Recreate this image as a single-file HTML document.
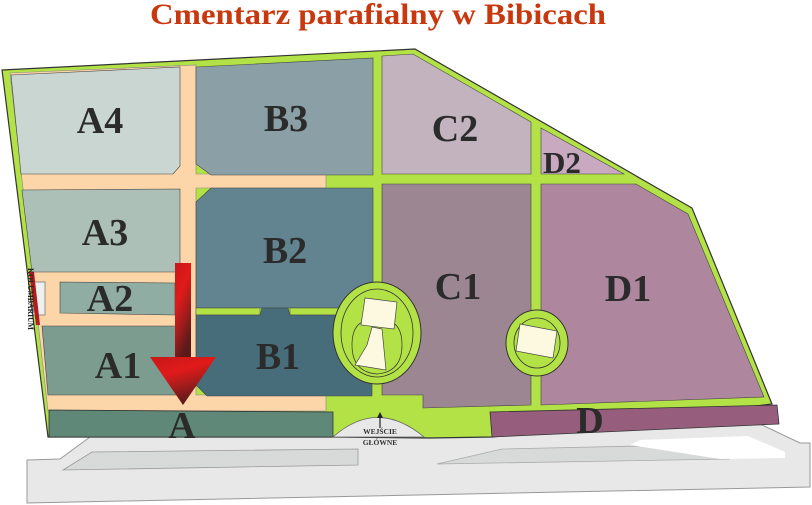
<!DOCTYPE html>
<html><head><meta charset="utf-8"><style>html,body{margin:0;padding:0;background:#fff}svg{display:block}</style></head><body>
<svg width="812" height="505" viewBox="0 0 812 505" xmlns="http://www.w3.org/2000/svg" font-family="Liberation Serif, serif">
<defs>
<linearGradient id="ar" x1="0" y1="0" x2="0.4" y2="1"><stop offset="0" stop-color="#c81818"/><stop offset="0.4" stop-color="#e01a1a"/><stop offset="0.7" stop-color="#a01c1c"/><stop offset="1" stop-color="#5a1a1a"/></linearGradient>
</defs>
<text x="378" y="24" text-anchor="middle" font-size="30" font-weight="bold" fill="#c8380f" textLength="456" lengthAdjust="spacingAndGlyphs">Cmentarz parafialny w Bibicach</text>
<polygon points="27,460 60,459 90,437 760,424 800,443 810,443 810,487 27,503" fill="#e8e8e8" stroke="#999" stroke-width="1"/>
<polygon points="63,470 92,452 358,449 358,465" fill="#d8d9d9" stroke="#999" stroke-width="0.8"/>
<polygon points="437,464 502,449 640,446 730,459" fill="#d8d9d9" stroke="#aaa" stroke-width="0.8"/>
<polygon points="630,445 640,440 748,436 785,452 785,458 720,459" fill="#fff"/>
<polygon points="2,70 415,49 692,208 772,404 492,437 430,438 333,437 48,437" fill="#b2e245" stroke="#333" stroke-width="1.2"/>
<polygon points="10,73 196,65 196,174 326,174 326,188 196,188 196,395 326,395 326,411 48,411" fill="#fcd5a8" stroke="#888" stroke-width="0.6"/>
<polygon points="11,75 180,67 180,166 173,174 21,174" fill="#c9d6d2" stroke="#444" stroke-width="0.6"/>
<polygon points="22,190 180,189 180,272 32,272" fill="#adc0b7" stroke="#444" stroke-width="0.6"/>
<polygon points="60,282 175,283 175,315 60,313" fill="#8fada2" stroke="#444" stroke-width="0.6"/>
<rect x="33" y="282" width="12" height="33" fill="#eef0f0" stroke="#555" stroke-width="0.6"/>
<polygon points="29,272 34,272 40,325 36,325" fill="#b01c20"/>
<polygon points="42,326 180,326 180,395 48,395" fill="#7c9c8f" stroke="#444" stroke-width="0.6"/>
<polygon points="49,410 333,412 333,437 49,437" fill="#5f8878" stroke="#333" stroke-width="0.8"/>
<polygon points="196,67 373,58 373,175 211,175 196,164" fill="#8aa0a6" stroke="#444" stroke-width="0.6"/>
<polygon points="196,202 211,188 373,188 373,308 196,308" fill="#628490" stroke="#444" stroke-width="0.6"/>
<rect x="196" y="308" width="64" height="7" fill="#b2e245" stroke="#444" stroke-width="0.5"/>
<rect x="290" y="308" width="83" height="7" fill="#b2e245" stroke="#444" stroke-width="0.5"/>
<polygon points="196,315 260,315 262,308 288,308 290,315 372,315 372,396 207,396 196,385" fill="#476d7a" stroke="#444" stroke-width="0.6"/>
<polygon points="382,56 413,54 531,122 531,174 382,174" fill="#c2b3bf" stroke="#444" stroke-width="0.6"/>
<polygon points="541,128 624,174 541,174" fill="#c9a9c0" stroke="#444" stroke-width="0.6"/>
<polygon points="382,184 531,184 531,405 423,408 423,395 382,395" fill="#9b8692" stroke="#444" stroke-width="0.6"/>
<polygon points="541,184 636,184 688,214 764,397 541,405" fill="#ae869d" stroke="#444" stroke-width="0.6"/>
<polygon points="490,412 777,405 779,424 492,437" fill="#965e7c" stroke="#333" stroke-width="0.8"/>
<ellipse cx="377" cy="333" rx="44" ry="51" fill="#b2e245" stroke="#333" stroke-width="1"/>
<ellipse cx="377" cy="333" rx="36" ry="44" fill="#b2e245" stroke="#333" stroke-width="0.8"/>
<path d="M352,345 Q352,320 372,320 L382,320 Q402,320 402,345 Q402,372 377,374 Q352,372 352,345Z" fill="none" stroke="#333" stroke-width="0.7"/>
<polygon points="365,298 397,302 394,329 361,325" fill="#fdf8e0" stroke="#444" stroke-width="0.7"/>
<polygon points="372,327 382,329 386,370 355,365 367,345" fill="#fdf8e0" stroke="#444" stroke-width="0.7"/>
<ellipse cx="537" cy="343" rx="31" ry="33" fill="#b2e245" stroke="#333" stroke-width="1"/>
<ellipse cx="537" cy="343" rx="23" ry="25" fill="#b2e245" stroke="#333" stroke-width="0.8"/>
<polygon points="520,324 557,331 553,358 516,351" fill="#fdf8e0" stroke="#444" stroke-width="0.7"/>
<path d="M333,437 Q377,398 424,437Z" fill="#e8e8e8" stroke="#666" stroke-width="0.8"/>
<line x1="380" y1="428" x2="380" y2="416" stroke="#222" stroke-width="1.2"/>
<polygon points="377,418 380,412 383,418" fill="#222"/>
<text x="380" y="434" text-anchor="middle" font-size="7.5" font-weight="bold" fill="#333">WEJŚCIE</text>
<text x="380" y="445" text-anchor="middle" font-size="7.5" font-weight="bold" fill="#333">GŁÓWNE</text>
<text transform="translate(28,299) rotate(90)" text-anchor="middle" font-size="8.5" font-weight="bold" fill="#222" textLength="62" lengthAdjust="spacingAndGlyphs">KOLUMBARIUM</text>
<rect x="175" y="263" width="16" height="96" fill="url(#ar)"/>
<polygon points="150,357 216,357 183,405" fill="url(#ar)"/>
<g font-size="38" font-weight="bold" fill="#2b2b2b" text-anchor="middle">
<text x="100" y="133">A4</text>
<text x="286" y="131">B3</text>
<text x="455" y="141">C2</text>
<text x="562" y="173" font-size="31">D2</text>
<text x="105" y="245">A3</text>
<text x="285" y="263">B2</text>
<text x="458" y="299">C1</text>
<text x="628" y="301">D1</text>
<text x="110" y="311">A2</text>
<text x="118" y="378">A1</text>
<text x="278" y="369">B1</text>
<text x="182" y="438">A</text>
<text x="590" y="433">D</text>
</g>
</svg>
</body></html>
